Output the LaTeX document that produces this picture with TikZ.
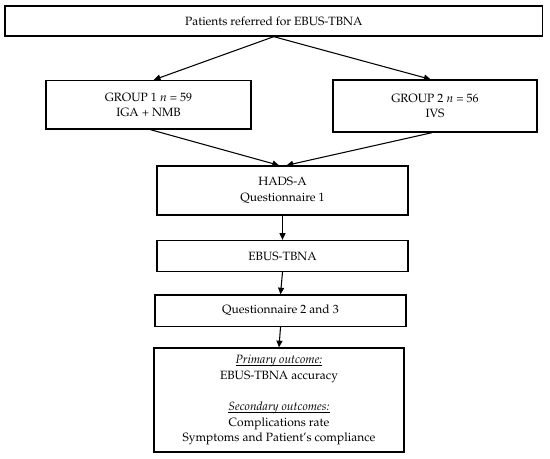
\documentclass[tikz,border=0pt]{standalone}
\usepackage[T1]{fontenc}
\usepackage{mathpazo}
\usetikzlibrary{arrows.meta}
\newcommand\myul[1]{\leavevmode\setbox0\hbox{#1}\rlap{\rule[-1.3pt]{\wd0}{0.4pt}}\box0}
\begin{document}
\begin{tikzpicture}[x=0.75pt,y=-0.75pt,
  box/.style={draw, line width=1pt, inner sep=0pt, align=center,
    font=\fontsize{9}{11.6}\selectfont},
  arr/.style={-{Triangle[length=5pt,width=4.5pt]}, line width=0.8pt}]
\useasboundingbox (0,0) rectangle (550,458);
\node[box, minimum width=403.1pt, minimum height=22.5pt] (top) at (273.75,21) {Patients referred for EBUS-TBNA};
\node[box, minimum width=153.75pt, minimum height=36.4pt] (g1) at (148.5,104.75) {GROUP 1 $n$ = 59\\IGA + NMB};
\node[box, minimum width=153pt, minimum height=39pt] (g2) at (435,106) {GROUP 2 $n$ = 56\\IVS};
\node[box, minimum width=188.25pt, minimum height=36.75pt] (hads) at (282.5,190.5) {HADS-A\\Questionnaire 1};
\node[box, minimum width=188.25pt, minimum height=23.25pt] (ebus) at (282.5,256) {EBUS-TBNA};
\node[box, minimum width=188.25pt, minimum height=23.6pt] (q) at (280.5,310.75) {Questionnaire 2 and 3};
\node[box, minimum width=187.5pt, minimum height=78pt] (out) at (279,400) {\myul{\textit{Primary outcome:}}\\EBUS-TBNA accuracy\\[12pt]\myul{\textit{Secondary outcomes:}}\\Complications rate\\Symptoms and Patient's compliance};
\draw[arr] (top.south) -- ([xshift=4pt]g1.north);
\draw[arr] (top.south) -- ([xshift=-3.3pt]g2.north);
\draw[arr] ([xshift=1.5pt]g1.south) -- ([xshift=-2.6pt]hads.north);
\draw[arr] ([xshift=-2.25pt]g2.south) -- ([xshift=3pt]hads.north);
\draw[arr] (hads.south) -- (ebus.north);
\draw[arr] (ebus.south) -- (q.north);
\draw[arr] (q.south) -- (out.north);
\end{tikzpicture}
\end{document}
